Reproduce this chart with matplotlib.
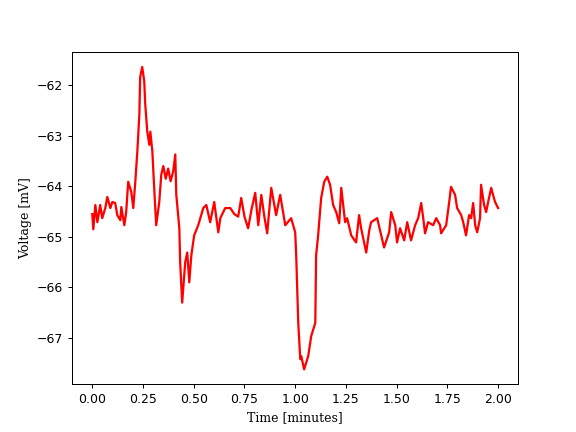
"""
Membrane voltage trace over two minutes.
Values read by eye from the reference chart.
"""
import matplotlib
matplotlib.use('Agg')
import matplotlib.pyplot as plt

# time in minutes
time_min = [
    0.000, 0.005, 0.015, 0.025, 0.039, 0.049, 0.064, 0.074, 0.089, 0.099,
    0.113, 0.123, 0.138, 0.143, 0.158, 0.167, 0.177, 0.192, 0.202, 0.212,
    0.222, 0.232, 0.236, 0.246, 0.256, 0.261, 0.271, 0.281, 0.286, 0.296,
    0.305, 0.315, 0.330, 0.340, 0.350, 0.362, 0.374, 0.386, 0.399, 0.409,
    0.414, 0.429, 0.433, 0.443, 0.458, 0.468, 0.478, 0.488, 0.502, 0.522,
    0.547, 0.562, 0.581, 0.601, 0.621, 0.631, 0.655, 0.680, 0.700, 0.719,
    0.734, 0.750, 0.768, 0.785, 0.803, 0.818, 0.833, 0.848, 0.862, 0.882,
    0.906, 0.926, 0.951, 0.980, 1.000, 1.005, 1.015, 1.025, 1.030, 1.044,
    1.064, 1.079, 1.099, 1.103, 1.113, 1.128, 1.143, 1.158, 1.172, 1.187,
    1.202, 1.217, 1.227, 1.246, 1.256, 1.276, 1.300, 1.315, 1.325, 1.350,
    1.365, 1.374, 1.404, 1.424, 1.438, 1.463, 1.473, 1.493, 1.502, 1.517,
    1.537, 1.552, 1.571, 1.591, 1.606, 1.621, 1.631, 1.640, 1.655, 1.680,
    1.695, 1.714, 1.719, 1.744, 1.759, 1.768, 1.788, 1.798, 1.818, 1.828,
    1.842, 1.857, 1.867, 1.877, 1.887, 1.897, 1.911, 1.916, 1.931, 1.941,
    1.951, 1.966, 1.975, 1.985, 2.000,
]

# voltage in mV
voltage_mv = [
    -64.55, -64.85, -64.37, -64.71, -64.37, -64.63, -64.43, -64.21, -64.43, -64.31,
    -64.33, -64.57, -64.67, -64.41, -64.77, -64.51, -63.91, -64.11, -64.43, -63.91,
    -63.31, -62.58, -61.84, -61.64, -61.92, -62.38, -62.92, -63.18, -62.92, -63.31,
    -64.03, -64.77, -64.31, -63.77, -63.60, -63.85, -63.65, -63.90, -63.70, -63.37,
    -64.17, -64.83, -65.50, -66.30, -65.50, -65.31, -65.90, -65.37, -64.97, -64.77,
    -64.43, -64.37, -64.71, -64.31, -64.91, -64.63, -64.43, -64.43, -64.55, -64.60,
    -64.23, -64.60, -64.83, -64.45, -64.13, -64.77, -64.17, -64.60, -64.93, -64.03,
    -64.57, -64.17, -64.77, -64.63, -64.91, -65.37, -66.70, -67.42, -67.36, -67.62,
    -67.36, -66.96, -66.70, -65.37, -64.97, -64.23, -63.91, -63.81, -63.97, -64.37,
    -64.51, -64.73, -64.03, -64.71, -64.63, -64.97, -65.11, -64.57, -64.83, -65.31,
    -64.87, -64.71, -64.63, -64.97, -65.21, -64.91, -64.51, -64.77, -65.11, -64.83,
    -65.07, -64.71, -65.07, -64.77, -64.63, -64.33, -64.63, -64.93, -64.71, -64.77,
    -64.63, -64.77, -64.93, -64.77, -64.31, -64.01, -64.17, -64.43, -64.57, -64.71,
    -64.97, -64.57, -64.63, -64.33, -64.77, -64.91, -64.63, -63.97, -64.37, -64.51,
    -64.31, -64.03, -64.17, -64.31, -64.43,
]

fig, ax = plt.subplots(figsize=(6.4, 4.8), dpi=90)
ax.plot(time_min, voltage_mv, color='red', linewidth=1.8)
ax.set_xlabel('Time [minutes]', fontfamily='serif')
ax.set_ylabel('Voltage [mV]', fontfamily='serif')
fig.savefig('out.png')
